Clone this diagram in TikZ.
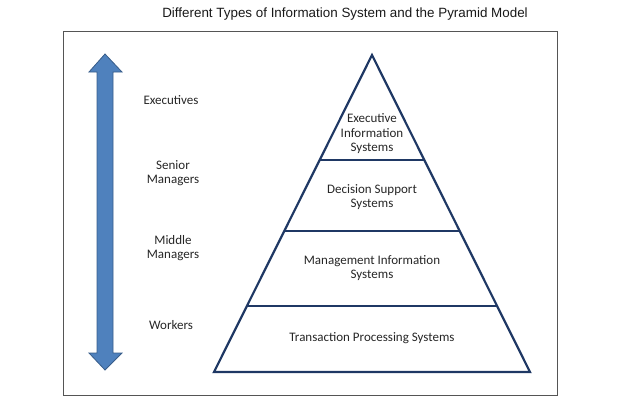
\documentclass[tikz,border=0pt]{standalone}
\usepackage{fontspec}
\setmainfont{Carlito}
\newfontfamily\titlefont{Liberation Sans}
\usetikzlibrary{calc}
\definecolor{navy}{HTML}{1F3864}
\definecolor{arrowblue}{HTML}{4F81BD}
\definecolor{arrowedge}{HTML}{385D8A}
\definecolor{framegray}{HTML}{555555}
\begin{document}
\begin{tikzpicture}[x=1pt,y=-1pt,
  lbl/.style={font=\fontsize{13}{14.5}\selectfont, align=center, inner sep=0pt, text=black!85},
  pyr/.style={draw=navy, line width=2.2pt, line join=miter},
  divider/.style={draw=navy, line width=2pt}]
\useasboundingbox (0,0) rectangle (625,416);
% title
\node[font=\titlefont\fontsize{13.4}{15}\selectfont, inner sep=0pt, text=black!90] (title) at (345,14) {Different Types of Information System and the Pyramid Model};
% frame
\draw[framegray, line width=0.9pt] (63,31) rectangle (557,395);
% double arrow
\filldraw[fill=arrowblue, draw=arrowedge, line width=0.8pt]
  (105,54) -- (122,72) -- (113,72) -- (113,353) -- (122,353) -- (105,370)
  -- (89,353) -- (97,353) -- (97,72) -- (89,72) -- cycle;
% pyramid
\coordinate (A) at (372,55);
\coordinate (L) at (214,372);
\coordinate (R) at (530,372);
\draw[pyr] (A) -- (L) -- (R) -- cycle;
\draw[divider] ($(A)!0.331!(L)$) -- ($(A)!0.331!(R)$);
\draw[divider] ($(A)!0.555!(L)$) -- ($(A)!0.555!(R)$);
\draw[divider] ($(A)!0.792!(L)$) -- ($(A)!0.792!(R)$);
% pyramid texts
\node[lbl] (eis) at (372,134) {Executive\\Information\\Systems};
\node[lbl] (dss) at (372,197) {Decision Support\\Systems};
\node[lbl] (mis) at (372,268) {Management Information\\Systems};
\node[lbl] (tps) at (372,338) {Transaction Processing Systems};
% level labels
\node[lbl] (exec) at (171,100) {Executives};
\node[lbl] (senior) at (173,173) {Senior\\Managers};
\node[lbl] (middle) at (173,248) {Middle\\Managers};
\node[lbl] (workers) at (171,325) {Workers};
\end{tikzpicture}
\end{document}
